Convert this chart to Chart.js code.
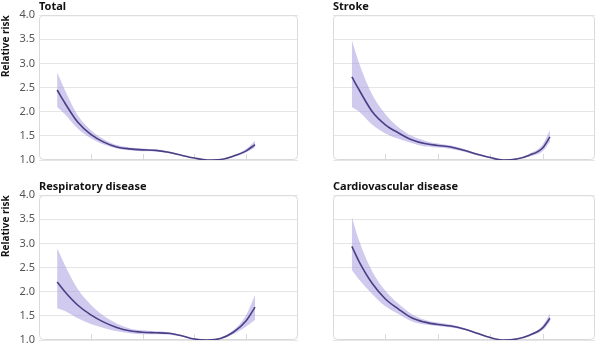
<!DOCTYPE html>
<html>
<head>
<meta charset="utf-8">
<script src="https://cdn.jsdelivr.net/npm/chart.js@4"></script>
<style>
body { margin: 0; background: #fff; overflow: hidden; }
#wrap { position: relative; width: 600px; height: 346px; }
canvas { position: absolute; }
</style>
</head>
<body>
<div id="wrap">
  <canvas id="total" width="300" height="166" style="left:0;top:0"></canvas>
  <canvas id="stroke" width="300" height="166" style="left:300px;top:0"></canvas>
  <canvas id="resp" width="300" height="171" style="left:0;top:175px"></canvas>
  <canvas id="cardio" width="300" height="171" style="left:300px;top:175px"></canvas>
</div>
<script>
// positions along the (unlabelled) x axis, 0..5
const xLeft  = [0.35, 0.5, 0.75, 1.0, 1.25, 1.5, 1.75, 2.0, 2.25, 2.5, 2.75, 3.0, 3.25, 3.5, 3.75, 4.0, 4.17];
const xRight = [0.36, 0.5, 0.75, 1.0, 1.25, 1.5, 1.75, 2.0, 2.25, 2.5, 2.75, 3.0, 3.25, 3.5, 3.75, 4.0, 4.14];

// Total
const totalRR = [2.45, 2.18, 1.78, 1.53, 1.37, 1.27, 1.23, 1.21, 1.20, 1.16, 1.10, 1.04, 1.00, 1.01, 1.08, 1.19, 1.32];
const totalHi = [2.82, 2.45, 1.92, 1.62, 1.43, 1.31, 1.26, 1.24, 1.22, 1.18, 1.11, 1.045, 1.00, 1.015, 1.10, 1.23, 1.40];
const totalLo = [2.10, 1.95, 1.65, 1.45, 1.32, 1.24, 1.20, 1.18, 1.18, 1.14, 1.09, 1.035, 1.00, 1.005, 1.06, 1.16, 1.26];

// Stroke
const strokeRR = [2.72, 2.45, 2.00, 1.73, 1.56, 1.42, 1.34, 1.30, 1.27, 1.20, 1.12, 1.05, 1.00, 1.02, 1.10, 1.25, 1.48];
const strokeHi = [3.48, 3.00, 2.35, 1.95, 1.68, 1.50, 1.40, 1.34, 1.30, 1.23, 1.14, 1.06, 1.00, 1.03, 1.13, 1.32, 1.62];
const strokeLo = [2.10, 2.00, 1.73, 1.55, 1.44, 1.35, 1.28, 1.26, 1.23, 1.17, 1.10, 1.04, 1.00, 1.01, 1.07, 1.18, 1.38];

// Respiratory disease
const respRR = [2.20, 2.00, 1.72, 1.52, 1.37, 1.26, 1.19, 1.16, 1.15, 1.14, 1.09, 1.02, 1.00, 1.03, 1.16, 1.40, 1.68];
const respHi = [2.90, 2.55, 2.05, 1.73, 1.50, 1.34, 1.24, 1.20, 1.18, 1.16, 1.10, 1.03, 1.00, 1.04, 1.20, 1.52, 1.93];
const respLo = [1.66, 1.60, 1.45, 1.33, 1.25, 1.18, 1.14, 1.12, 1.12, 1.11, 1.07, 1.01, 1.00, 1.02, 1.12, 1.28, 1.42];

// Cardiovascular disease
const cardioRR = [2.94, 2.62, 2.17, 1.85, 1.64, 1.46, 1.37, 1.32, 1.29, 1.23, 1.14, 1.05, 1.00, 1.02, 1.10, 1.25, 1.45];
const cardioHi = [3.55, 3.05, 2.42, 2.02, 1.75, 1.54, 1.42, 1.36, 1.32, 1.25, 1.15, 1.06, 1.00, 1.03, 1.12, 1.30, 1.55];
const cardioLo = [2.45, 2.25, 1.95, 1.70, 1.54, 1.39, 1.32, 1.29, 1.26, 1.21, 1.12, 1.04, 1.00, 1.01, 1.08, 1.20, 1.38];

const FONT = "'Noto Sans', sans-serif";
const lineColor = '#4a3f85';
const bandColor = 'rgba(160, 150, 222, 0.5)';
const gridColor = '#e6e6e6';

// rounded frame + small inner ticks on the bottom edge
const framePlugin = {
    id: 'frame',
    beforeDatasetsDraw(chart) {
        const { ctx, chartArea: a } = chart;
        const x = chart.scales.x;
        ctx.save();
        ctx.strokeStyle = '#dadada';
        ctx.lineWidth = 1;
        ctx.beginPath();
        ctx.roundRect(a.left + 0.5, a.top + 0.5, a.width - 1, a.height - 1, 4);
        ctx.stroke();
        ctx.beginPath();
        x.ticks.forEach((t, i) => {
            if (i === 0 || i === x.ticks.length - 1) return;
            const px = Math.round(x.getPixelForValue(t.value)) + 0.5;
            ctx.moveTo(px, a.bottom);
            ctx.lineTo(px, a.bottom - 6);
        });
        ctx.stroke();
        ctx.restore();
    }
};

function pts(xs, ys) {
    return xs.map((x, i) => ({ x: x, y: ys[i] }));
}

function makePanel(id, title, xs, rr, lo, hi, isLeft, padTop, padRight) {
    const ctx = document.getElementById(id).getContext('2d');
    return new Chart(ctx, {
        type: 'line',
        data: {
            datasets: [
                { data: pts(xs, hi), borderWidth: 0, backgroundColor: bandColor, fill: '+1', pointRadius: 0, cubicInterpolationMode: 'monotone', order: 2 },
                { data: pts(xs, lo), borderWidth: 0, backgroundColor: bandColor, fill: false, pointRadius: 0, cubicInterpolationMode: 'monotone', order: 2 },
                { data: pts(xs, rr), borderColor: lineColor, borderWidth: 1.6, fill: false, pointRadius: 0, cubicInterpolationMode: 'monotone', order: 0 }
            ]
        },
        options: {
            responsive: false,
            animation: false,
            events: [],
            layout: { padding: { top: padTop, right: padRight, bottom: 6, left: 0 } },
            plugins: {
                legend: { display: false },
                tooltip: { enabled: false },
                title: {
                    display: true,
                    text: title,
                    align: 'start',
                    fullSize: false,
                    color: '#111',
                    font: { family: FONT, size: 11, weight: 'bold' },
                    padding: { top: 0, bottom: 2 }
                }
            },
            scales: {
                x: {
                    type: 'linear',
                    min: 0,
                    max: 5,
                    ticks: { display: false, stepSize: 1 },
                    grid: { display: false, drawTicks: false },
                    border: { display: false },
                    afterFit: s => { s.height = 0; }
                },
                y: {
                    min: 1,
                    max: 4,
                    ticks: {
                        display: isLeft,
                        stepSize: 0.5,
                        padding: 4,
                        color: '#555',
                        font: { family: FONT, size: 11 },
                        callback: v => v.toFixed(1)
                    },
                    grid: { color: gridColor, drawTicks: false },
                    border: { display: false },
                    title: {
                        display: isLeft,
                        text: 'Relative risk',
                        align: 'end',
                        color: '#111',
                        font: { family: FONT, size: 10, weight: 'bold' },
                        padding: { top: 0, bottom: 0 }
                    },
                    afterFit: s => {
                        s.width = isLeft ? 39 : 33;
                        // let the end labels overhang like in the original
                        s.paddingTop = 0;
                        s.paddingBottom = 0;
                    }
                }
            }
        },
        plugins: [framePlugin]
    });
}

makePanel('total', 'Total', xLeft, totalRR, totalLo, totalHi, true, 0, 2);
makePanel('stroke', 'Stroke', xRight, strokeRR, strokeLo, strokeHi, false, 0, 5);
makePanel('resp', 'Respiratory disease', xLeft, respRR, respLo, respHi, true, 5, 2);
makePanel('cardio', 'Cardiovascular disease', xRight, cardioRR, cardioLo, cardioHi, false, 5, 5);
</script>
</body>
</html>
